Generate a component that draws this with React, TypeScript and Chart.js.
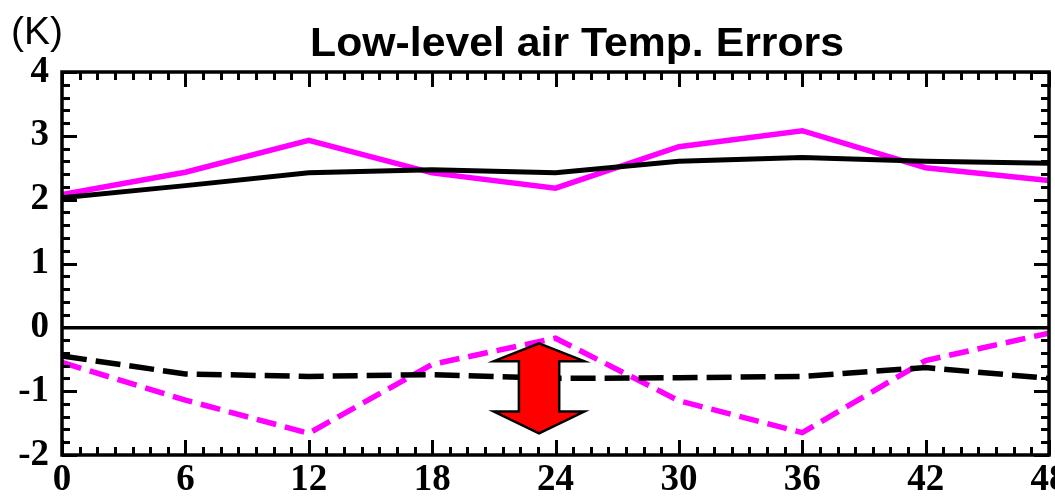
import React, { useEffect, useRef } from 'react';
import { Chart, registerables } from 'chart.js';

Chart.register(...registerables);

// ---- data ----
const HOURS = [0, 6, 12, 18, 24, 30, 36, 42, 48];
const BLACK_SOLID = [2.03, 2.22, 2.42, 2.47, 2.42, 2.6, 2.66, 2.6, 2.57];
const MAGENTA_SOLID = [2.08, 2.43, 2.93, 2.42, 2.18, 2.83, 3.08, 2.5, 2.3];
const BLACK_DASHED = [-0.45, -0.73, -0.77, -0.74, -0.8, -0.79, -0.77, -0.63, -0.8];
const MAGENTA_DASHED = [-0.55, -1.14, -1.66, -0.58, -0.17, -1.15, -1.65, -0.52, -0.09];
const X_TICKS = [0, 6, 12, 18, 24, 30, 36, 42, 48];
const Y_TICKS = [-2, -1, 0, 1, 2, 3, 4];
const TITLE = 'Low-level air Temp. Errors';
const UNIT = '(K)';

// arrow annotation (data units)
const ARROW_X = 23.2;
const ARROW_TOP = -0.25;
const ARROW_BOTTOM = -1.66;

const pts = (ys: number[]) => HOURS.map((h, i) => ({ x: h, y: ys[i] }));

const framePlugin = {
  id: 'frameTicks',
  afterDraw(chart: any) {
    const { ctx, chartArea: a, scales } = chart;
    const xs = scales.x;
    const ys = scales.y;
    ctx.save();
    ctx.strokeStyle = '#000';
    ctx.lineWidth = 3;
    ctx.lineCap = 'butt';
    // x ticks (minor every 6/7 hour)
    for (let k = 0; k <= 56; k++) {
      const v = (k * 6) / 7;
      const px = Math.round(xs.getPixelForValue(v)) + 0.5;
      const len = k % 7 === 0 ? 15 : 8;
      ctx.beginPath();
      ctx.moveTo(px, a.bottom);
      ctx.lineTo(px, a.bottom - len);
      ctx.moveTo(px, a.top);
      ctx.lineTo(px, a.top + len);
      ctx.stroke();
    }
    // y ticks every 0.2
    for (let k = 0; k <= 30; k++) {
      const v = -2 + k * 0.2;
      const py = Math.round(ys.getPixelForValue(v)) + 0.5;
      const len = k % 5 === 0 ? 15 : 8;
      ctx.beginPath();
      ctx.moveTo(a.left, py);
      ctx.lineTo(a.left + len, py);
      ctx.moveTo(a.right, py);
      ctx.lineTo(a.right - len, py);
      ctx.stroke();
    }
    ctx.lineWidth = 3.5;
    ctx.strokeRect(a.left, a.top, a.right - a.left, a.bottom - a.top);

    // title & unit
    ctx.fillStyle = '#000';
    ctx.textBaseline = 'alphabetic';
    ctx.font = 'bold 40px "Liberation Sans", Arial, sans-serif';
    const w = ctx.measureText(TITLE).width;
    const target = 534;
    ctx.save();
    ctx.translate(577, 56);
    ctx.scale(target / w, 1);
    ctx.textAlign = 'center';
    ctx.fillText(TITLE, 0, 0);
    ctx.restore();
    ctx.font = '39px "Liberation Sans", Arial, sans-serif';
    ctx.textAlign = 'left';
    ctx.fillText(UNIT, 11, 44);
    ctx.restore();
  },
};

const arrowPlugin = {
  id: 'arrow',
  afterDatasetsDraw(chart: any) {
    const { ctx, scales } = chart;
    const xs = scales.x;
    const ys = scales.y;
    const cx = xs.getPixelForValue(ARROW_X);
    const hw = xs.getPixelForValue(ARROW_X + 2.2) - cx;
    const sw = xs.getPixelForValue(ARROW_X + 0.98) - cx;
    const top = ys.getPixelForValue(ARROW_TOP);
    const bot = ys.getPixelForValue(ARROW_BOTTOM);
    const topBase = ys.getPixelForValue(ARROW_TOP - 0.28);
    const botBase = ys.getPixelForValue(ARROW_BOTTOM + 0.34);
    ctx.save();
    ctx.beginPath();
    ctx.moveTo(cx, top);
    ctx.lineTo(cx + hw, topBase);
    ctx.lineTo(cx + sw, topBase);
    ctx.lineTo(cx + sw, botBase);
    ctx.lineTo(cx + hw, botBase);
    ctx.lineTo(cx, bot);
    ctx.lineTo(cx - hw, botBase);
    ctx.lineTo(cx - sw, botBase);
    ctx.lineTo(cx - sw, topBase);
    ctx.lineTo(cx - hw, topBase);
    ctx.closePath();
    ctx.fillStyle = '#ff0000';
    ctx.fill();
    ctx.lineWidth = 2.5;
    ctx.strokeStyle = '#000';
    ctx.lineJoin = 'miter';
    ctx.stroke();
    ctx.restore();
  },
};

export default function App() {
  const ref = useRef<HTMLCanvasElement | null>(null);

  useEffect(() => {
    if (!ref.current) return;
    const chart = new Chart(ref.current, {
      type: 'line',
      data: {
        datasets: [
          { data: pts(BLACK_SOLID), borderColor: '#000', borderWidth: 5, pointRadius: 0, tension: 0 },
          { data: pts(MAGENTA_SOLID), borderColor: '#ff00ff', borderWidth: 5.5, pointRadius: 0, tension: 0 },
          { data: pts(BLACK_DASHED), borderColor: '#000', borderWidth: 5.5, borderDash: [25, 9], pointRadius: 0, tension: 0 },
          { data: pts(MAGENTA_DASHED), borderColor: '#ff00ff', borderWidth: 5.5, borderDash: [20, 9], pointRadius: 0, tension: 0 },
        ],
      },
      options: {
        responsive: false,
        animation: false,
        devicePixelRatio: 1,
        layout: { padding: { top: 72, right: 6, left: 0, bottom: 0 } },
        plugins: { legend: { display: false }, tooltip: { enabled: false }, title: { display: false } },
        scales: {
          x: {
            type: 'linear',
            min: 0,
            max: 48,
            afterBuildTicks: (s: any) => { s.ticks = X_TICKS.map((v) => ({ value: v })); },
            afterFit: (s: any) => { s.height = 41; s.paddingLeft = 0; s.paddingRight = 0; },
            grid: { display: false, drawTicks: false },
            border: { display: false },
            ticks: {
              autoSkip: false,
              maxRotation: 0,
              padding: 3,
              color: '#000',
              font: { family: '"Liberation Serif", "Times New Roman", serif', weight: 'bold', size: 37 },
            },
          },
          y: {
            type: 'linear',
            min: -2,
            max: 4,
            afterBuildTicks: (s: any) => { s.ticks = Y_TICKS.map((v) => ({ value: v })); },
            afterFit: (s: any) => { s.width = 62; s.paddingTop = 0; s.paddingBottom = 0; },
            grid: {
              drawTicks: false,
              color: (c: any) => (c.tick && c.tick.value === 0 ? '#000' : 'rgba(0,0,0,0)'),
              lineWidth: 3.5,
            },
            border: { display: false },
            ticks: {
              padding: 13,
              color: '#000',
              font: { family: '"Liberation Serif", "Times New Roman", serif', weight: 'bold', size: 37 },
            },
          },
        },
      },
      plugins: [arrowPlugin, framePlugin],
    });
    return () => chart.destroy();
  }, []);

  return (
    <div style={{ position: 'absolute', left: 0, top: 0, width: 1055, height: 496, background: '#fff' }}>
      <canvas ref={ref} width={1055} height={496} style={{ display: 'block' }} />
    </div>
  );
}
